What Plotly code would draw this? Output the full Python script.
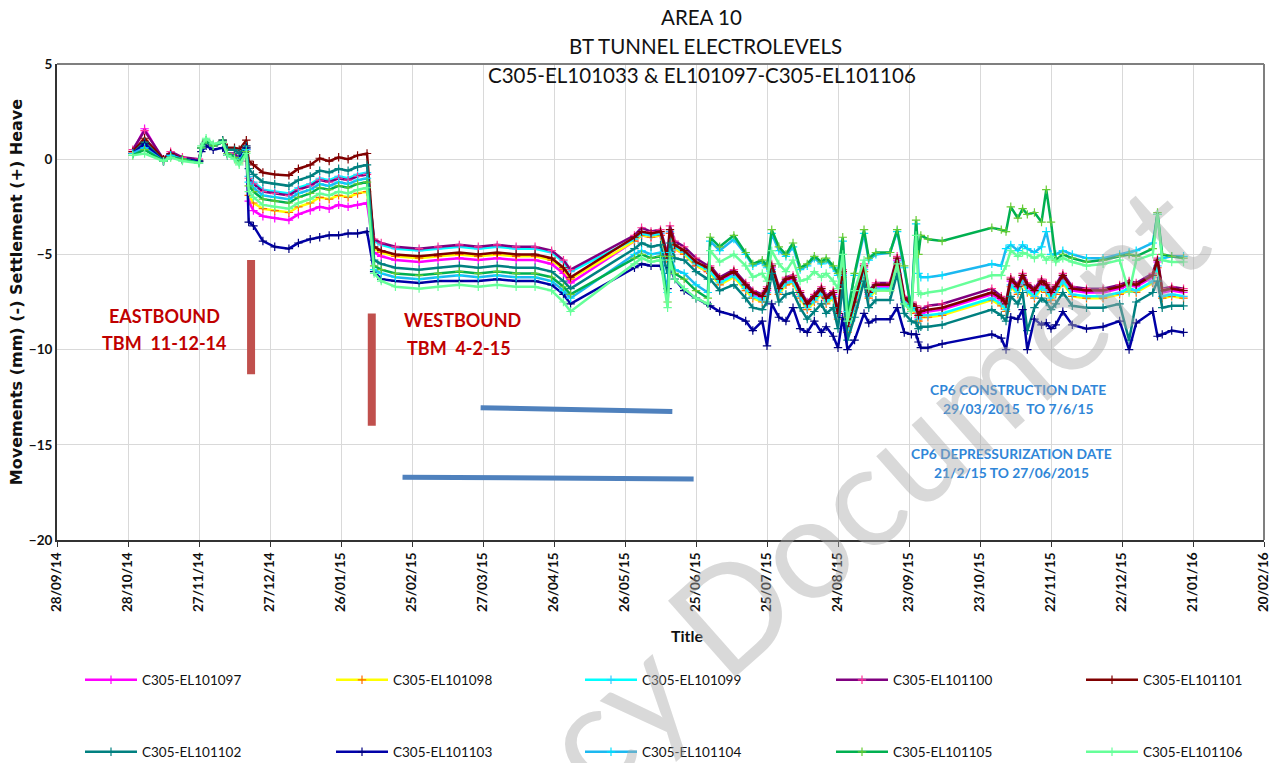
import plotly.graph_objects as go

# ---- reading dates (dd/mm/yy axis) ----
dates = [
    # Oct - Dec 2014
    "2014-10-30", "2014-11-04", "2014-11-12", "2014-11-15", "2014-11-20", "2014-11-27", "2014-11-28",
    "2014-11-30", "2014-12-03", "2014-12-07", "2014-12-09", "2014-12-12", "2014-12-14", "2014-12-17",
    # after eastbound TBM
    "2014-12-18", "2014-12-20", "2014-12-24", "2014-12-29", "2015-01-04", "2015-01-08", "2015-01-13",
    "2015-01-17", "2015-01-21", "2015-01-25", "2015-01-29", "2015-02-02", "2015-02-06",
    # after westbound TBM
    "2015-02-09", "2015-02-12", "2015-02-18", "2015-02-28", "2015-03-08", "2015-03-17", "2015-03-25",
    "2015-04-02", "2015-04-10", "2015-04-18", "2015-04-25", "2015-04-30", "2015-05-03",
    # June 2015
    "2015-05-30", "2015-06-02", "2015-06-06", "2015-06-10", "2015-06-13", "2015-06-14", "2015-06-16",
    "2015-06-20", "2015-06-25", "2015-06-30",
    # Jul - Sep 2015
    "2015-07-01", "2015-07-05", "2015-07-11", "2015-07-16", "2015-07-19", "2015-07-23", "2015-07-25",
    "2015-07-27", "2015-07-30", "2015-08-02", "2015-08-05", "2015-08-08", "2015-08-11", "2015-08-14",
    "2015-08-17", "2015-08-19", "2015-08-22", "2015-08-24", "2015-08-26", "2015-08-28", "2015-08-31",
    "2015-09-04", "2015-09-06", "2015-09-09", "2015-09-15", "2015-09-18", "2015-09-21", "2015-09-24",
    "2015-09-26", "2015-09-27", "2015-09-28",
    # Oct 2015 - Jan 2016
    "2015-10-01", "2015-10-07", "2015-10-28", "2015-11-01", "2015-11-03", "2015-11-05", "2015-11-08",
    "2015-11-10", "2015-11-12", "2015-11-15", "2015-11-18", "2015-11-20", "2015-11-22", "2015-11-24",
    "2015-11-27", "2015-12-01", "2015-12-07", "2015-12-14", "2015-12-21", "2015-12-25", "2015-12-28",
    "2016-01-04", "2016-01-06", "2016-01-08", "2016-01-12", "2016-01-17",
]

# ---- electrolevel movements (mm) ----
el101097 = [
    0.4, 1.6, -0.1, 0.3, 0.0, -0.1, 0.6, 0.9, 0.7, 0.9, 0.3, 0.2, -0.1, 0.5,
    -2.2, -2.7, -3.0, -3.1, -3.2, -2.9, -2.7, -2.5, -2.6, -2.4, -2.5, -2.4, -2.3,
    -4.9, -5.1, -5.3, -5.4, -5.3, -5.2, -5.3, -5.2, -5.3, -5.3, -5.5, -6.0, -6.5,
    -4.3, -4.0, -4.1, -4.0, -5.4, -3.9, -4.7, -5.0, -5.6, -5.9,
    -5.8, -6.4, -6.0, -6.7, -7.1, -7.3, -6.9, -5.7, -6.9, -6.4, -6.3, -7.1, -7.7, -7.3, -6.9, -7.4,
    -7.1, -8.2, -6.0, -8.9, -7.6, -5.7, -7.1, -6.7, -6.7, -5.3, -7.4, -7.7, -7.9, -8.3, -8.1,
    -8.0, -7.9, -7.1, -7.4, -7.7, -6.4, -6.8, -6.2, -6.7, -7.0, -6.5, -6.7, -7.1, -6.8, -6.2, -6.9,
    -7.0, -7.0, -6.8, -6.6, -6.7, -6.2, -5.4, -7.0, -6.9, -7.0,
]
el101098 = [
    0.4, 1.0, -0.1, 0.2, 0.0, -0.1, 0.6, 0.9, 0.7, 0.9, 0.3, 0.2, -0.1, 0.6,
    -1.9, -2.3, -2.6, -2.7, -2.8, -2.5, -2.3, -2.0, -2.1, -1.9, -2.0, -1.8, -1.7,
    -4.7, -4.9, -5.1, -5.2, -5.1, -5.0, -5.1, -5.0, -5.1, -5.1, -5.3, -5.8, -6.3,
    -4.3, -4.0, -4.1, -4.0, -5.4, -3.9, -4.7, -5.0, -5.6, -5.9,
    -6.0, -6.6, -6.2, -6.9, -7.3, -7.5, -7.1, -5.9, -7.1, -6.6, -6.5, -7.3, -7.9, -7.5, -7.1, -7.6,
    -7.3, -8.4, -6.2, -9.1, -7.8, -5.9, -7.3, -6.9, -6.9, -5.5, -7.6, -7.9, -8.1, -8.5, -8.3,
    -8.3, -8.2, -7.4, -7.7, -8.0, -6.7, -7.1, -6.5, -7.0, -7.3, -6.8, -7.0, -7.4, -7.1, -6.5, -7.2,
    -7.3, -7.3, -7.1, -6.9, -7.0, -6.5, -5.7, -7.3, -7.2, -7.3,
]
el101099 = [
    0.3, 0.7, -0.1, 0.2, 0.0, -0.1, 0.6, 0.9, 0.7, 0.9, 0.3, 0.2, 0.0, 0.6,
    -0.9, -1.2, -1.6, -1.7, -1.8, -1.5, -1.3, -1.0, -1.1, -0.9, -1.0, -0.8, -0.7,
    -4.3, -4.5, -4.7, -4.8, -4.7, -4.6, -4.7, -4.6, -4.7, -4.7, -4.9, -5.4, -5.9,
    -4.2, -3.9, -4.0, -3.9, -5.3, -3.8, -4.6, -4.9, -5.5, -5.8,
    -5.9, -6.5, -6.1, -6.8, -7.2, -7.4, -7.0, -5.8, -7.0, -6.5, -6.4, -7.2, -7.8, -7.4, -7.0, -7.5,
    -7.2, -8.3, -6.1, -9.0, -7.7, -5.8, -7.2, -6.8, -6.8, -5.4, -7.5, -7.8, -8.0, -8.4, -8.2,
    -8.2, -8.1, -7.3, -7.6, -7.9, -6.6, -7.0, -6.4, -6.9, -7.2, -6.7, -6.9, -7.3, -7.0, -6.4, -7.1,
    -7.2, -7.2, -7.0, -6.8, -6.9, -6.4, -5.6, -7.2, -7.1, -7.2,
]
el101100 = [
    0.5, 1.5, 0.0, 0.4, 0.1, 0.0, 0.6, 0.9, 0.7, 0.9, 0.3, 0.3, 0.0, 0.7,
    -1.0, -1.3, -1.7, -1.8, -1.9, -1.6, -1.4, -1.1, -1.2, -1.0, -1.1, -0.9, -0.8,
    -4.2, -4.4, -4.6, -4.7, -4.6, -4.5, -4.6, -4.5, -4.6, -4.6, -4.8, -5.3, -5.8,
    -4.0, -3.6, -3.8, -3.7, -5.0, -3.5, -4.3, -4.6, -5.2, -5.6,
    -5.6, -6.2, -5.8, -6.5, -6.9, -7.1, -6.7, -5.5, -6.7, -6.2, -6.1, -6.9, -7.5, -7.1, -6.7, -7.2,
    -6.9, -8.0, -5.8, -8.7, -7.4, -5.5, -6.9, -6.5, -6.5, -5.1, -7.2, -7.5, -7.7, -8.1, -7.9,
    -7.7, -7.6, -6.8, -7.2, -7.5, -6.2, -6.6, -6.0, -6.5, -6.8, -6.3, -6.5, -6.9, -6.6, -6.0, -6.7,
    -6.8, -6.8, -6.6, -6.4, -6.5, -6.0, -5.2, -6.8, -6.7, -6.8,
]
el101101 = [
    0.4, 1.1, 0.0, 0.3, 0.0, -0.1, 0.6, 0.9, 0.7, 1.0, 0.6, 0.6, 0.5, 1.0,
    -0.1, -0.3, -0.7, -0.8, -0.85, -0.5, -0.3, 0.05, -0.1, 0.1, 0.0, 0.2, 0.3,
    -4.6, -4.8, -5.0, -5.1, -5.0, -4.9, -5.0, -4.9, -5.0, -5.0, -5.2, -5.7, -6.2,
    -4.1, -3.8, -3.9, -3.8, -5.2, -3.7, -4.5, -4.8, -5.4, -5.7,
    -5.7, -6.3, -5.9, -6.6, -7.0, -7.2, -6.8, -5.6, -6.8, -6.3, -6.2, -7.0, -7.6, -7.2, -6.8, -7.3,
    -7.0, -8.1, -5.9, -8.8, -7.5, -5.6, -7.0, -6.6, -6.6, -5.2, -7.3, -7.6, -7.8, -8.2, -8.0,
    -7.9, -7.8, -7.0, -7.3, -7.6, -6.3, -6.7, -6.1, -6.6, -6.9, -6.4, -6.6, -7.0, -6.7, -6.1, -6.8,
    -6.9, -6.9, -6.7, -6.5, -6.6, -6.1, -5.3, -6.9, -6.8, -6.9,
]
el101102 = [
    0.3, 0.9, -0.1, 0.2, 0.0, -0.1, 0.6, 0.9, 0.7, 1.0, 0.5, 0.5, 0.3, 0.7,
    -0.5, -0.8, -1.2, -1.3, -1.4, -1.1, -0.9, -0.6, -0.7, -0.5, -0.6, -0.4, -0.3,
    -5.3, -5.5, -5.7, -5.8, -5.7, -5.6, -5.7, -5.6, -5.7, -5.7, -5.9, -6.4, -6.8,
    -4.7, -4.4, -4.6, -4.5, -6.0, -4.4, -5.2, -5.3, -5.9, -6.3,
    -6.3, -6.9, -6.6, -7.3, -7.8, -7.9, -7.5, -6.0, -7.5, -7.1, -7.0, -7.8, -8.4, -8.0, -7.6, -8.1,
    -7.8, -8.9, -6.6, -9.5, -8.3, -6.4, -7.8, -7.4, -7.4, -6.0, -8.1, -8.5, -8.6, -8.9, -8.8,
    -8.8, -8.7, -7.9, -8.2, -8.5, -7.2, -7.6, -7.0, -9.0, -7.8, -7.3, -7.5, -7.9, -7.6, -7.0, -7.7,
    -7.8, -7.8, -7.6, -9.5, -7.5, -7.0, -6.4, -7.8, -7.7, -7.7,
]
el101103 = [
    0.3, 0.8, -0.1, 0.2, 0.0, -0.1, 0.4, 0.7, 0.5, 0.6, 0.2, 0.1, 0.0, 0.6,
    -3.3, -3.5, -4.3, -4.6, -4.7, -4.4, -4.2, -4.1, -4.0, -4.0, -3.9, -3.9, -3.8,
    -5.9, -6.3, -6.4, -6.5, -6.4, -6.4, -6.4, -6.3, -6.4, -6.4, -6.6, -7.1, -7.6,
    -5.7, -5.5, -5.6, -5.6, -6.8, -5.7, -6.3, -6.9, -7.3, -7.6,
    -7.7, -8.0, -8.2, -8.5, -9.0, -8.5, -9.8, -7.6, -8.3, -8.5, -7.8, -8.9, -9.1, -8.5, -9.1, -8.8,
    -9.3, -9.9, -8.3, -10.0, -9.5, -8.1, -8.6, -8.4, -8.4, -7.8, -9.1, -9.2, -9.2, -9.6, -9.9,
    -9.9, -9.7, -9.2, -9.4, -10.0, -8.3, -8.4, -7.9, -10.0, -8.4, -8.7, -8.6, -8.9, -8.7, -8.0, -8.7,
    -8.9, -8.8, -8.5, -10.0, -8.6, -8.0, -9.3, -9.2, -9.0, -9.1,
]
el101104 = [
    0.3, 0.6, -0.1, 0.2, 0.0, -0.2, 0.6, 1.0, 0.7, 0.9, 0.3, 0.1, -0.1, 0.5,
    -1.2, -1.5, -1.9, -2.0, -2.1, -1.8, -1.6, -1.3, -1.4, -1.2, -1.3, -1.1, -1.0,
    -5.8, -6.0, -6.2, -6.3, -6.2, -6.1, -6.2, -6.1, -6.2, -6.2, -6.4, -6.9, -7.3,
    -5.0, -4.8, -5.0, -4.9, -7.0, -4.9, -5.8, -6.0, -6.6, -7.0,
    -4.3, -4.8, -4.2, -5.0, -5.6, -5.4, -5.7, -3.9, -4.8, -5.1, -4.6, -5.8, -5.6, -5.2, -5.5, -5.3,
    -5.7, -6.1, -4.3, -8.0, -6.1, -3.9, -5.3, -5.0, -4.9, -3.8, -5.7, -7.8, -3.4, -6.0, -6.2,
    -6.2, -6.1, -5.5, -5.6, -4.7, -4.5, -4.8, -4.5, -4.7, -4.9, -4.6, -3.8, -5.0, -5.0, -4.8, -5.0,
    -5.2, -5.2, -5.0, -4.9, -4.8, -4.4, -2.9, -5.2, -5.1, -5.1,
]
el101105 = [
    0.2, 0.5, -0.1, 0.1, 0.0, -0.2, 0.6, 1.0, 0.7, 0.9, 0.3, 0.1, -0.2, 0.4,
    -1.4, -1.7, -2.1, -2.2, -2.3, -2.0, -1.8, -1.5, -1.6, -1.4, -1.5, -1.3, -1.2,
    -5.6, -5.8, -6.0, -6.1, -6.0, -5.9, -6.0, -5.9, -6.0, -6.0, -6.2, -6.7, -7.1,
    -5.2, -5.0, -5.2, -5.1, -7.5, -5.1, -6.0, -6.3, -6.9, -7.3,
    -4.1, -4.6, -4.0, -4.9, -5.5, -5.3, -5.6, -3.7, -4.6, -5.0, -4.4, -5.7, -5.5, -5.1, -5.4, -5.2,
    -5.6, -6.0, -4.1, -8.3, -6.0, -3.7, -5.2, -4.9, -4.9, -3.7, -5.6, -8.0, -3.2, -5.0, -4.0,
    -4.2, -4.3, -3.6, -3.7, -3.8, -2.5, -3.1, -2.6, -2.9, -2.8, -3.3, -1.6, -3.3, -5.3, -5.0, -5.2,
    -5.4, -5.3, -5.1, -5.0, -5.1, -4.7, -2.8, -5.0, -5.1, -5.2,
]
el101106 = [
    0.2, 0.3, -0.1, 0.1, -0.1, -0.2, 0.7, 1.1, 0.8, 0.9, 0.2, 0.0, -0.3, 0.3,
    -1.7, -2.0, -2.4, -2.5, -2.6, -2.3, -2.1, -1.8, -1.9, -1.7, -1.8, -1.6, -1.5,
    -6.0, -6.4, -6.7, -6.8, -6.7, -6.6, -6.7, -6.6, -6.7, -6.7, -6.9, -7.5, -8.0,
    -5.5, -5.2, -5.4, -5.3, -7.8, -5.3, -6.3, -6.8, -7.3, -7.6,
    -4.8, -5.4, -5.0, -5.6, -6.2, -6.0, -6.4, -4.8, -5.5, -5.9, -5.3, -6.4, -6.3, -5.9, -6.2, -6.0,
    -6.4, -6.8, -5.0, -8.5, -6.9, -5.3, -6.8, -6.9, -6.9, -5.5, -7.6, -8.0, -4.0, -7.0, -7.1,
    -7.0, -6.9, -6.1, -6.1, -5.6, -4.8, -5.1, -4.9, -5.0, -5.2, -5.0, -5.3, -5.1, -5.4, -5.2, -5.4,
    -5.6, -5.5, -5.3, -7.0, -5.3, -5.0, -2.9, -5.3, -5.4, -5.4,
]

series_names = [
    "C305-EL101097", "C305-EL101098", "C305-EL101099", "C305-EL101100", "C305-EL101101",
    "C305-EL101102", "C305-EL101103", "C305-EL101104", "C305-EL101105", "C305-EL101106",
]
series_values = [el101097, el101098, el101099, el101100, el101101,
                 el101102, el101103, el101104, el101105, el101106]
line_colors = ["#FF00FF", "#FFFF00", "#00FFFF", "#800080", "#800000",
               "#008080", "#0000A8", "#1CB8F0", "#00B050", "#66FF99"]
marker_colors = ["#FF00FF", "#FF6600", "#33CCFF", "#FF3399", "#800000",
                 "#008080", "#000080", "#00E0FF", "#66CC33", "#66FF99"]

# ---- annotation data ----
tbm_bars = [  # (date, top mm, bottom mm)
    ("2014-12-19", -5.3, -11.3),
    ("2015-02-08", -8.1, -14.0),
]
cp6_periods = [  # (start, end, level at start, level at end)
    ("2015-03-26", "2015-06-15", -13.05, -13.25),
    ("2015-02-21", "2015-06-24", -16.7, -16.8),
]
x_start, x_end = "2014-09-28", "2016-02-20"
y_ticks = [5, 0, -5, -10, -15, -20]

FONT = "Lato"
W, H = 1283, 763
PL, PR, PT, PB = 57, 1268, 64, 540   # plot area edges in pixels

# legend grid: 5 columns x 2 rows (pixel positions of each entry)
legend_cols = [80, 331, 580, 831, 1081]
legend_rows = [680, 752]


def px_x(px):
    """pixel column -> paper x"""
    return (px - PL) / (PR - PL)


def px_y(py):
    """pixel row -> paper y"""
    return (PB - py) / (PB - PT)


fig = go.Figure()

legend_layouts = {}
for i, (name, vals, lc, mc) in enumerate(zip(series_names, series_values, line_colors, marker_colors)):
    key = "legend" if i == 0 else f"legend{i + 1}"
    fig.add_trace(go.Scatter(
        x=dates, y=vals, name=name, mode="lines+markers",
        line=dict(color=lc, width=2.5),
        marker=dict(symbol="cross-thin", size=6, color=mc, line=dict(width=1.2, color=mc)),
        legend=key,
    ))
    legend_layouts[key] = dict(
        orientation="h", xref="container", yref="container",
        x=legend_cols[i % 5] / W, y=1 - legend_rows[i // 5] / H,
        xanchor="left", yanchor="middle", itemwidth=52,
        font=dict(family=FONT, size=13.5, color="#111111"), bgcolor="rgba(0,0,0,0)",
    )

shapes = []
for d, y0, y1 in tbm_bars:
    shapes.append(dict(type="line", xref="x", yref="y", x0=d, x1=d, y0=y0, y1=y1,
                       line=dict(color="#C0504D", width=8)))
for d0, d1, y0, y1 in cp6_periods:
    shapes.append(dict(type="line", xref="x", yref="y", x0=d0, x1=d1, y0=y0, y1=y1,
                       line=dict(color="#4F81BD", width=5)))
# plot frame (top / right)
shapes.append(dict(type="line", xref="paper", yref="paper", x0=0, x1=1, y0=1, y1=1,
                   line=dict(color="#7F7F7F", width=2)))
shapes.append(dict(type="line", xref="paper", yref="paper", x0=1, x1=1, y0=0, y1=1,
                   line=dict(color="#7F7F7F", width=2)))

annotations = []


def note(text, px, py, font, xanchor="center", angle=0):
    annotations.append(dict(text=text, xref="paper", yref="paper", x=px_x(px), y=px_y(py),
                            xanchor=xanchor, yanchor="middle", showarrow=False,
                            textangle=angle, font=font))


title_font = dict(family=FONT, size=20.5, color="#111111")
note("AREA 10", 704, 17, title_font)
note("BT TUNNEL ELECTROLEVELS", 708, 46, title_font)
note("C305-EL101033 & EL101097-C305-EL101106", 704, 75, title_font)

red_font = dict(family=FONT, size=18, color="#C00000", weight="bold")
note("EASTBOUND", 107, 316, red_font, "left")
note("TBM  11-12-14", 100, 343, red_font, "left")
note("WESTBOUND", 403, 320, red_font, "left")
note("TBM  4-2-15", 406, 348, red_font, "left")

blue_font = dict(family=FONT, size=13.8, color="#2F86D8", weight="bold")
note("CP6 CONSTRUCTION DATE", 1021, 389, blue_font)
note("29/03/2015  TO 7/6/15", 1021, 408, blue_font)
note("CP6 DEPRESSURIZATION DATE", 1015, 453, blue_font)
note("21/2/15 TO 27/06/2015", 1015, 472, blue_font)

note("Movements (mm) (-) Settlement (+) Heave", 16, 292,
     dict(family="DejaVu Sans", size=16, color="#111111", weight="bold"), angle=-90)
note("Title", 690, 635, dict(family=FONT, size=16, color="#111111", weight="bold"))
# watermark
note("cy Document", 872, 485, dict(family=FONT, size=142, color="rgba(170,170,170,0.45)"), angle=-41.5)

fig.update_layout(
    width=W, height=H,
    margin=dict(l=PL, r=W - PR, t=PT, b=H - PB),
    paper_bgcolor="white", plot_bgcolor="white",
    showlegend=True,
    shapes=shapes, annotations=annotations,
    font=dict(family=FONT, color="#111111"),
    **legend_layouts,
)
fig.update_xaxes(
    type="date", range=[x_start, x_end], tick0=x_start, dtick=30 * 86400000,
    tickformat="%d/%m/%y", tickangle=-90, showgrid=True, gridcolor="#D9D9D9", gridwidth=1,
    showline=True, linecolor="#333333", linewidth=2, ticks="outside", ticklen=5,
    tickcolor="#333333", tickfont=dict(family=FONT, size=13.5, color="#111111", weight="bold"),
    zeroline=False,
)
fig.update_yaxes(
    range=[-20, 5], tickvals=y_ticks, showgrid=True, gridcolor="#D9D9D9", gridwidth=1,
    showline=True, linecolor="#333333", linewidth=2, zeroline=False,
    tickfont=dict(family=FONT, size=13.5, color="#111111", weight="bold"),
)

fig.write_html("out.html")
